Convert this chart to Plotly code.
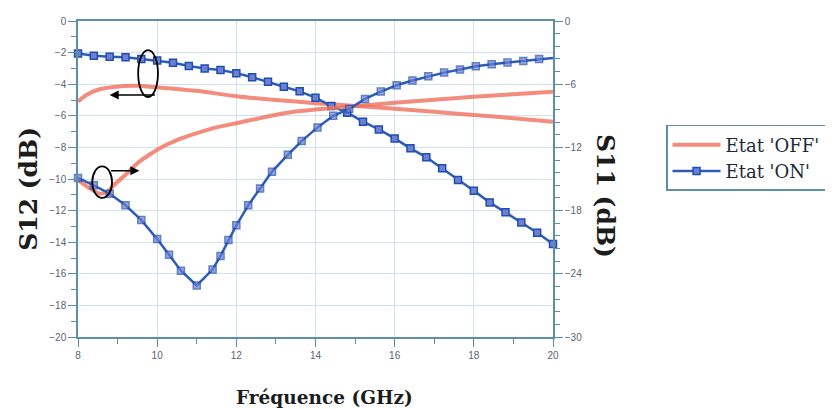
import plotly.graph_objects as go

# ---------------- data ----------------
# S12, Etat 'ON' (left axis, dB)
s12_on_freq = [8.0, 8.4, 8.8, 9.2, 9.6, 10.0, 10.4, 10.8, 11.2, 11.6, 12.0, 12.4, 12.8, 13.2,
               13.6, 14.0, 14.4, 14.8, 15.2, 15.6, 16.0, 16.4, 16.8, 17.2, 17.6, 18.0, 18.4,
               18.8, 19.2, 19.6, 20.0]
s12_on = [-2.05, -2.2, -2.26, -2.3, -2.4, -2.5, -2.64, -2.85, -3.0, -3.1, -3.3, -3.56, -3.84,
          -4.16, -4.45, -4.85, -5.38, -5.8, -6.37, -6.86, -7.43, -8.06, -8.63, -9.32, -10.06,
          -10.74, -11.48, -12.11, -12.76, -13.4, -14.11]

# S11, Etat 'ON' (right axis, dB)
s11_on_freq = [8.0, 8.4, 8.8, 9.2, 9.6, 10.0, 10.3, 10.6, 11.0, 11.4, 11.6, 11.8, 12.0, 12.3,
               12.6, 12.9, 13.3, 13.65, 14.05, 14.45, 14.85, 15.25, 15.65, 16.05, 16.45, 16.85,
               17.25, 17.65, 18.05, 18.45, 18.85, 19.25, 19.65, 20.0]
s11_on = [-14.9, -15.6, -16.4, -17.5, -18.9, -20.7, -22.2, -23.7, -25.1, -23.6, -22.3, -20.8,
          -19.4, -17.5, -15.9, -14.3, -12.7, -11.4, -10.1, -9.0, -8.35, -7.4, -6.7, -6.1,
          -5.65, -5.25, -4.9, -4.6, -4.3, -4.1, -3.95, -3.8, -3.6, -3.5]

# S12, Etat 'OFF' (left axis, dB)
s12_off_freq = [8.0, 8.2, 8.5, 8.9, 9.5, 10.0, 11.0, 12.0, 13.0, 14.0, 15.0, 16.0, 17.0,
                18.0, 19.0, 20.0]
s12_off = [-5.1, -4.7, -4.35, -4.17, -4.1, -4.2, -4.42, -4.76, -5.0, -5.2, -5.38, -5.55,
           -5.75, -5.95, -6.15, -6.38]

# S11, Etat 'OFF' (right axis, dB)
s11_off_freq = [8.0, 8.3, 8.55, 8.75, 8.9, 9.2, 9.5, 9.8, 10.1, 10.5, 11.0, 11.5, 12.0, 12.5,
                13.0, 13.5, 14.0, 15.0, 16.0, 17.0, 18.0, 19.0, 20.0]
s11_off = [-15.1, -15.9, -16.4, -16.2, -15.6, -14.6, -13.5, -12.7, -12.0, -11.3, -10.65,
           -10.1, -9.7, -9.3, -8.9, -8.6, -8.4, -8.07, -7.77, -7.47, -7.2, -6.95, -6.72]

x_ticks = [8, 10, 12, 14, 16, 18, 20]
y_left_ticks = [0, -2, -4, -6, -8, -10, -12, -14, -16, -18, -20]
y_right_ticks = [0, -6, -12, -18, -24, -30]

# ---------------- style ----------------
ORANGE = "rgba(240,115,95,0.82)"
BLUE = "#2d5cb8"
AXIS = "#5f8fa8"
GRID = "#cfe2ee"
TICKFONT = dict(family="Liberation Sans, Arial", size=10, color="#5a6470")
SERIF = "DejaVu Serif, Liberation Serif, serif"

marker_on = dict(symbol="square", size=7, color="#6f7fd2", line=dict(color="#1f4fae", width=1.5))

fig = go.Figure()

fig.add_trace(go.Scatter(x=s12_off_freq, y=s12_off, mode="lines", name="Etat 'OFF'",
                         line=dict(color=ORANGE, width=4, shape="spline", smoothing=0.6),
                         legendgroup="off", showlegend=True, yaxis="y"))
fig.add_trace(go.Scatter(x=s11_off_freq, y=s11_off, mode="lines", name="Etat 'OFF'",
                         line=dict(color=ORANGE, width=4, shape="spline", smoothing=0.6),
                         legendgroup="off", showlegend=False, yaxis="y2"))
fig.add_trace(go.Scatter(x=s12_on_freq, y=s12_on, mode="lines+markers", name="Etat 'ON'",
                         line=dict(color=BLUE, width=2.5), marker=marker_on,
                         legendgroup="on", showlegend=True, yaxis="y", cliponaxis=False))
sizes = [7] * (len(s11_on_freq) - 1) + [0]
fig.add_trace(go.Scatter(x=s11_on_freq, y=s11_on, mode="lines+markers", name="Etat 'ON'",
                         line=dict(color=BLUE, width=2.5),
                         marker=dict(marker_on, size=sizes),
                         legendgroup="on", showlegend=False, yaxis="y2", cliponaxis=False))

# ellipses and arrows
fig.add_shape(type="circle", xref="x", yref="y", x0=9.52, x1=10.02, y0=-4.81, y1=-1.84,
              line=dict(color="black", width=1.8))
fig.add_shape(type="circle", xref="x", yref="y", x0=8.36, x1=8.86, y0=-11.2, y1=-9.2,
              line=dict(color="black", width=1.8))
fig.add_annotation(x=8.8, y=-4.68, ax=9.98, ay=-4.68, xref="x", yref="y", axref="x", ayref="y",
                   showarrow=True, arrowhead=2, arrowsize=1.2, arrowwidth=1.5, arrowcolor="black", text="")
fig.add_annotation(x=9.55, y=-9.47, ax=8.8, ay=-9.47, xref="x", yref="y", axref="x", ayref="y",
                   showarrow=True, arrowhead=2, arrowsize=1.2, arrowwidth=1.5, arrowcolor="black", text="")

# axis titles
fig.add_annotation(text="<b>S12 (dB)</b>", xref="paper", yref="paper", x=-0.106, y=0.468,
                   xanchor="center", yanchor="middle",
                   textangle=-90, showarrow=False, font=dict(family=SERIF, size=25, color="#1c1c1c"))
fig.add_annotation(text="<b>S11 (dB)</b>", xref="paper", yref="paper", x=1.1116, y=0.446,
                   xanchor="center", yanchor="middle",
                   textangle=90, showarrow=False, font=dict(family=SERIF, size=25, color="#1c1c1c"))
fig.add_annotation(text="<b>Fréquence (GHz)</b>", xref="paper", yref="paper", x=0.518, y=-0.19,
                   xanchor="center", yanchor="middle",
                   showarrow=False, font=dict(family=SERIF, size=18.5, color="#1c1c1c"))

fig.update_layout(
    width=825, height=402,
    margin=dict(l=70, r=280, t=13, b=73, autoexpand=False),
    paper_bgcolor="white", plot_bgcolor="white",
    xaxis=dict(range=[8, 20], tickvals=x_ticks, showgrid=True, gridcolor=GRID, gridwidth=1,
               showline=True, linecolor=AXIS, linewidth=1.5, mirror=True,
               ticks="outside", ticklen=8, tickcolor=AXIS, tickwidth=1.2, tickfont=TICKFONT,
               minor=dict(dtick=1, ticks="outside", ticklen=5, tickcolor=AXIS, showgrid=False),
               zeroline=False),
    yaxis=dict(range=[-20, 0], tickvals=y_left_ticks, showgrid=True, gridcolor=GRID, gridwidth=1,
               showline=True, linecolor=AXIS, linewidth=1.5,
               ticks="outside", ticklen=8, tickcolor=AXIS, tickwidth=1.2, tickfont=TICKFONT,
               minor=dict(dtick=1, ticks="outside", ticklen=5, tickcolor=AXIS, showgrid=False),
               zeroline=False),
    yaxis2=dict(range=[-30, 0], tickvals=y_right_ticks, overlaying="y", side="right",
                showgrid=False, showline=True, linecolor=AXIS, linewidth=1.5,
                ticks="outside", ticklen=8, tickcolor=AXIS, tickwidth=1.2, tickfont=TICKFONT,
                minor=dict(dtick=1.2, tick0=0, ticks="outside", ticklen=5, tickcolor=AXIS, showgrid=False),
                zeroline=False),
    legend=dict(x=1.238, y=0.671, xanchor="left", yanchor="top",
                bordercolor=AXIS, borderwidth=1.5, bgcolor="white",
                font=dict(family=SERIF, size=18, color="#1c2a38"),
                tracegroupgap=0, itemwidth=48),
    showlegend=True,
)

fig.write_html("out.html")
